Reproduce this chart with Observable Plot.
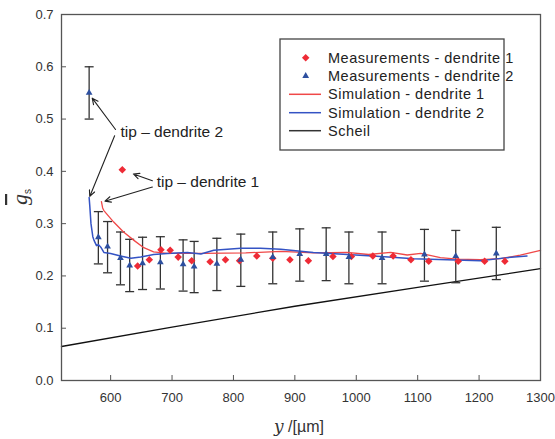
<!DOCTYPE html>
<html><head><meta charset="utf-8">
<script src="https://cdn.jsdelivr.net/npm/d3@7"></script>
<script src="https://cdn.jsdelivr.net/npm/@observablehq/plot@0.6"></script>
<style>body{margin:0;background:#fff}</style>
</head><body><div id="chart"></div>
<script>
// ---- data ----
const xTicks = [600, 700, 800, 900, 1000, 1100, 1200, 1300];
const yTicks = [0, 0.1, 0.2, 0.3, 0.4, 0.5, 0.6, 0.7];

const meas1X = [619, 644, 663, 682, 697, 710, 732, 762, 787, 810, 838, 864, 892, 922, 962, 992, 1027, 1060, 1089, 1118, 1166, 1209, 1242];
const meas1Y = [0.403, 0.219, 0.231, 0.250, 0.249, 0.236, 0.229, 0.227, 0.231, 0.229, 0.238, 0.234, 0.231, 0.229, 0.237, 0.237, 0.238, 0.238, 0.231, 0.228, 0.228, 0.228, 0.228];

const meas2X = [565, 580, 595, 616, 631, 652, 681, 718, 736, 773, 812, 864, 908, 951, 988, 1042, 1111, 1162, 1228];
const meas2Y = [0.550, 0.274, 0.256, 0.234, 0.220, 0.224, 0.226, 0.222, 0.218, 0.223, 0.231, 0.236, 0.242, 0.242, 0.236, 0.234, 0.241, 0.238, 0.243];
const errLow  = [0.500, 0.223, 0.206, 0.183, 0.170, 0.174, 0.175, 0.171, 0.168, 0.172, 0.180, 0.185, 0.190, 0.191, 0.185, 0.185, 0.190, 0.187, 0.193];
const errHigh = [0.600, 0.323, 0.304, 0.284, 0.270, 0.274, 0.275, 0.269, 0.266, 0.272, 0.280, 0.284, 0.290, 0.292, 0.284, 0.284, 0.289, 0.287, 0.293];

const sim1X = [585, 587, 589, 597, 605, 621, 638, 654, 670, 692, 750, 820, 877, 930, 985, 1020, 1056, 1083, 1105, 1137, 1164, 1202, 1235, 1267, 1300];
const sim1Y = [0.342, 0.330, 0.325, 0.314, 0.303, 0.284, 0.268, 0.254, 0.246, 0.243, 0.243, 0.244, 0.247, 0.244, 0.245, 0.241, 0.245, 0.240, 0.243, 0.235, 0.232, 0.231, 0.233, 0.240, 0.249];

const sim2X = [565, 566, 568, 571, 573, 577, 580, 584, 589, 600, 616, 633, 649, 670, 692, 725, 747, 768, 812, 844, 877, 930, 985, 1040, 1094, 1148, 1202, 1246, 1278];
const sim2Y = [0.350, 0.335, 0.300, 0.275, 0.268, 0.258, 0.260, 0.255, 0.245, 0.243, 0.238, 0.234, 0.236, 0.241, 0.243, 0.245, 0.242, 0.249, 0.253, 0.253, 0.251, 0.245, 0.241, 0.237, 0.233, 0.231, 0.229, 0.235, 0.238];

const scheilX = [520, 700, 900, 1100, 1300];
const scheilY = [0.065, 0.102, 0.142, 0.178, 0.214];

const legendLabels = ["Measurements - dendrite 1", "Measurements - dendrite 2", "Simulation - dendrite 1", "Simulation - dendrite 2", "Scheil"];
const annotLabels = ["tip \u2013 dendrite 2", "tip \u2013 dendrite 1"];
const annotTextX = [616, 675];
const annotTextY = [0.475, 0.379];
const arrowFromX = [608, 606.5, 668, 668];
const arrowFromY = [0.480, 0.468, 0.382, 0.370];
const arrowToX = [570, 566, 637, 590.7];
const arrowToY = [0.540, 0.352, 0.395, 0.343];

// ---- build tables ----
const meas1 = meas1X.map((x, i) => ({x, y: meas1Y[i]}));
const meas2 = meas2X.map((x, i) => ({x, y: meas2Y[i], lo: errLow[i], hi: errHigh[i]}));
const caps = meas2.flatMap(d => [{x: d.x, y: d.lo}, {x: d.x, y: d.hi}]);
const sim1 = sim1X.map((x, i) => ({x, y: sim1Y[i]}));
const sim2 = sim2X.map((x, i) => ({x, y: sim2Y[i]}));
const scheil = scheilX.map((x, i) => ({x, y: scheilY[i]}));
const annots = annotLabels.map((t, i) => ({t, x: annotTextX[i], y: annotTextY[i]}));
const arrows = arrowFromX.map((x, i) => ({x1: x, y1: arrowFromY[i], x2: arrowToX[i], y2: arrowToY[i]}));

const RED = "#ee2b36", BLUE = "#2d4f9f", RED_LINE = "#f04848", BLUE_LINE = "#3453c4";
const capSymbol = {draw(ctx, size) { const r = Math.sqrt(size / Math.PI); ctx.moveTo(-r, 0); ctx.lineTo(r, 0); }};
const R_DIA = 3.4, R_TRI = 2.5;

const chart = Plot.plot({
  width: 555, height: 439,
  marginLeft: 61, marginRight: 15, marginTop: 14, marginBottom: 59,
  style: {fontFamily: "'Liberation Sans', Arial, sans-serif", fontSize: "13px", color: "#333", background: "#fff"},
  x: {domain: [520, 1300]},
  y: {domain: [0, 0.7]},
  marks: [
    Plot.axisX({ticks: xTicks, tickSize: 5, dy: -5, fill: "none", stroke: "#555", label: null}),
    Plot.axisX({ticks: xTicks, tickSize: 0, tickPadding: 12, label: null, fill: "#333", tickFormat: d3.format("d")}),
    Plot.axisY({ticks: yTicks, tickSize: 5, dx: 5, fill: "none", stroke: "#555", label: null}),
    Plot.axisY({ticks: yTicks, tickSize: 0, tickPadding: 8, label: null, fill: "#333", tickFormat: d3.format(".1f")}),
    Plot.line(scheil, {x: "x", y: "y", stroke: "#111", strokeWidth: 1.3}),
    Plot.ruleX(meas2, {x: "x", y1: "lo", y2: "hi", stroke: "#333", strokeWidth: 1.3}),
    Plot.dot(caps, {x: "x", y: "y", symbol: capSymbol, r: 4.5, stroke: "#333", strokeWidth: 1.3, fill: "none"}),
    Plot.line(sim1, {x: "x", y: "y", stroke: RED_LINE, strokeWidth: 1.3}),
    Plot.line(sim2, {x: "x", y: "y", stroke: BLUE_LINE, strokeWidth: 1.5}),
    Plot.dot(meas1, {x: "x", y: "y", symbol: "diamond2", r: R_DIA, fill: RED, stroke: "none"}),
    Plot.dot(meas2, {x: "x", y: "y", symbol: "triangle", r: R_TRI, fill: BLUE, stroke: "none"}),
    Plot.arrow(arrows, {x1: "x1", y1: "y1", x2: "x2", y2: "y2", stroke: "#222", strokeWidth: 1.1, headLength: 9, headAngle: 50}),
    Plot.text(annots, {x: "x", y: "y", text: "t", textAnchor: "start", fontSize: 15.5, fill: "#222"}),
    Plot.frame({stroke: "#555", strokeWidth: 1.3})
  ]
});

const svg = d3.select(chart);
// y axis label
const yl = svg.append("text")
  .attr("transform", "translate(27,197) rotate(-90)")
  .attr("text-anchor", "middle")
  .attr("fill", "#333");
yl.append("tspan").attr("font-family", "'Liberation Serif', serif").attr("font-style", "italic").attr("font-size", 22).style("text-decoration", "overline").text("g");
yl.append("tspan").attr("font-family", "'Liberation Sans', sans-serif").attr("font-size", 10).attr("dy", 4).text("s");
// x axis label
const xl = svg.append("text").attr("x", 299).attr("y", 432).attr("text-anchor", "middle").attr("fill", "#333");
xl.append("tspan").attr("font-family", "'DejaVu Serif', serif").attr("font-style", "italic").attr("font-size", 17).text("y");
xl.append("tspan").attr("font-family", "'Liberation Sans', sans-serif").attr("font-size", 16).text(" /[\u00b5m]");

// legend
const lg = svg.append("g").attr("text-anchor", "start");
lg.append("rect").attr("x", 280).attr("y", 39).attr("width", 224).attr("height", 111).attr("fill", "#fff").attr("stroke", "#444").attr("stroke-width", 1.3);
const rowsY = [57.7, 76, 94.3, 112.7, 130.7];
lg.append("path").attr("transform", `translate(305.7,${rowsY[0]})`).attr("d", d3.symbol(d3.symbolDiamond2, Math.PI * R_DIA * R_DIA)()).attr("fill", RED);
lg.append("path").attr("transform", `translate(305.7,${rowsY[1]})`).attr("d", d3.symbol(d3.symbolTriangle, Math.PI * R_TRI * R_TRI)()).attr("fill", BLUE);
[RED_LINE, BLUE_LINE, "#333"].forEach((c, i) => {
  lg.append("line").attr("x1", 289).attr("x2", 321).attr("y1", rowsY[i + 2]).attr("y2", rowsY[i + 2]).attr("stroke", c).attr("stroke-width", 1.5);
});
legendLabels.forEach((t, i) => {
  lg.append("text").attr("x", 328).attr("y", rowsY[i]).attr("dy", "0.35em").attr("text-anchor", "start").attr("font-family", "'Liberation Sans', Arial, sans-serif").attr("font-size", 14.5).attr("letter-spacing", 0.5).attr("fill", "#222").text(t);
});

document.getElementById("chart").appendChild(chart);
</script>
</body></html>
